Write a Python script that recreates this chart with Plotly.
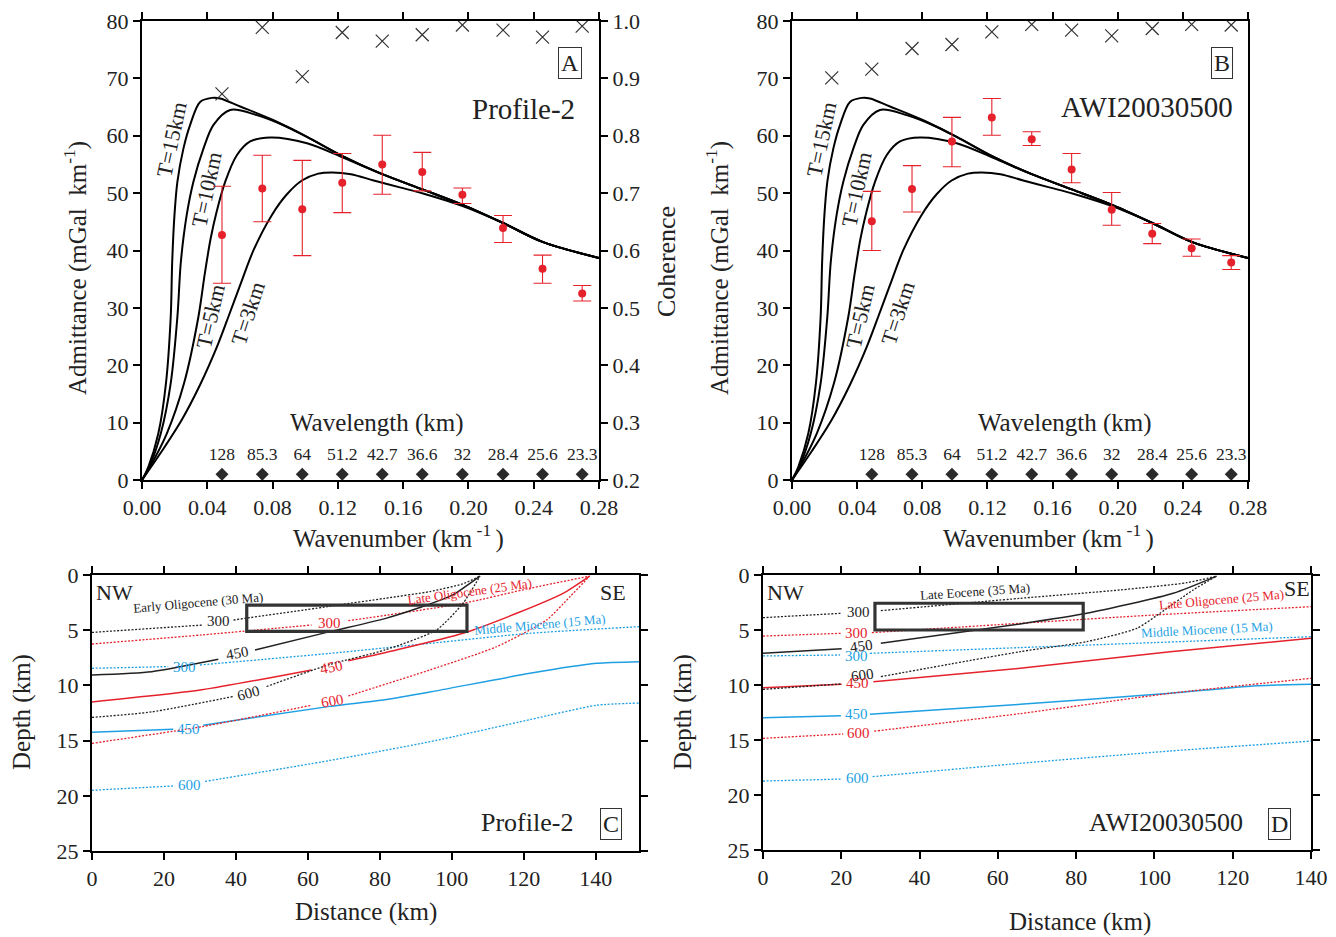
import plotly.graph_objects as go

# ---------------- DATA ----------------
# wavenumbers of the spectral estimates (km^-1) and their wavelength labels
k_obs = [0.0490, 0.0737, 0.0982, 0.1227, 0.1472, 0.1717, 0.1963, 0.2212, 0.2454, 0.2697]
wavelength_labels = ["128", "85.3", "64", "51.2", "42.7", "36.6", "32", "28.4", "25.6", "23.3"]

# Panel A (Profile-2) observed admittance with error-bar limits
a_obs_A = [42.7, 50.8, 47.2, 51.8, 55.0, 53.7, 49.7, 43.9, 36.8, 32.5]
a_top_A = [51.2, 56.6, 55.7, 56.9, 60.1, 57.1, 50.9, 46.1, 39.2, 33.9]
a_bot_A = [34.3, 45.0, 39.1, 46.6, 49.8, 50.4, 48.2, 41.4, 34.3, 31.2]
coh_A = [0.873, 0.989, 0.903, 0.980, 0.965, 0.976, 0.993, 0.984, 0.972, 0.991]

# Panel B (AWI20030500)
a_obs_B = [45.1, 50.7, 59.0, 63.2, 59.4, 54.1, 47.1, 42.9, 40.4, 37.9]
a_top_B = [50.3, 54.8, 63.2, 66.5, 60.7, 56.9, 50.1, 44.7, 42.0, 39.1]
a_bot_B = [40.0, 46.7, 54.6, 60.1, 58.3, 51.8, 44.4, 41.2, 39.0, 36.7]
k_coh_B = [0.0244, 0.0490, 0.0737, 0.0982, 0.1227, 0.1472, 0.1717, 0.1963, 0.2212, 0.2454, 0.2697]
coh_B = [0.901, 0.916, 0.952, 0.959, 0.981, 0.994, 0.984, 0.974, 0.987, 0.994, 0.993]

# model admittance curves
k_t15 = [0, 0.0039, 0.0100, 0.0147, 0.0176, 0.0185, 0.0199, 0.0217, 0.0254, 0.0295, 0.0356, 0.0428, 0.0479, 0.0602, 0.0806, 0.1011, 0.1232, 0.1472, 0.1723, 0.1969, 0.2219, 0.2454, 0.28]
a_t15 = [0, 2.3, 8.1, 16.9, 28.5, 38.0, 46.2, 52.0, 57.8, 61.9, 65.9, 66.6, 66.5, 65.1, 62.7, 59.8, 56.4, 53.3, 50.6, 47.9, 44.7, 41.5, 38.7]
k_t10 = [0, 0.0045, 0.0115, 0.0176, 0.0217, 0.0238, 0.0274, 0.0315, 0.0377, 0.0438, 0.0540, 0.0704, 0.0900, 0.1011, 0.1232, 0.1472, 0.1723, 0.1969, 0.2219, 0.2454, 0.28]
a_t10 = [0, 2.3, 8.1, 16.9, 28.5, 38.0, 46.2, 52.0, 57.8, 61.9, 64.5, 63.6, 61.4, 59.8, 56.4, 53.3, 50.6, 47.9, 44.7, 41.5, 38.7]
k_t5 = [0, 0.0049, 0.0152, 0.0258, 0.0346, 0.0385, 0.0420, 0.0455, 0.0510, 0.0581, 0.0663, 0.0786, 0.1011, 0.1232, 0.1472, 0.1723, 0.1969, 0.2219, 0.2454, 0.28]
a_t5 = [0, 2.3, 8.1, 16.9, 28.5, 36.0, 42.0, 46.5, 52.0, 56.6, 59.0, 59.7, 58.7, 56.2, 53.3, 50.6, 47.9, 44.7, 41.5, 38.7]
k_t3 = [0, 0.0121, 0.0244, 0.0356, 0.0459, 0.0530, 0.0602, 0.0684, 0.0796, 0.0888, 0.0980, 0.1080, 0.1165, 0.1280, 0.1420, 0.1580, 0.1727, 0.1969, 0.2219, 0.2454, 0.28]
a_t3 = [0, 5.0, 10.5, 16.6, 23.2, 28.5, 34.0, 40.1, 46.2, 49.8, 52.2, 53.4, 53.6, 53.3, 52.2, 51.0, 49.9, 47.7, 44.7, 41.5, 38.7]
curve_names = ["T=15km", "T=10km", "T=5km", "T=3km"]

# Panel C (Profile-2) isotherms: distance (km) / depth (km); None = label gap
c_b300_x = [0, 30.9, None, 39.3, 66.1, 81.4, 93.9, 103.0, 107.8]
c_b300_z = [5.2, 4.53, None, 4.08, 2.83, 2.11, 1.5, 0.8, 0.1]
c_b450_x = [0, 16.6, 35.1, None, 45.3, 66.1, 81.4, 91.1, 100.0, 107.8]
c_b450_z = [9.06, 8.76, 7.64, None, 6.79, 5.13, 3.95, 2.95, 1.85, 0.1]
c_b600_x = [0, 16.6, 39.3, None, 48.5, 66.1, 81.4, 95.7, 103.1, 107.8]
c_b600_z = [12.9, 12.4, 11.0, None, 10.1, 8.1, 6.79, 4.98, 2.57, 0.1]
c_r300_x = [0, 30.5, 61.0, None, 71.2, 103.1, 121.7, 138.3]
c_r300_z = [6.25, 5.43, 4.53, None, 4.14, 2.57, 1.2, 0.1]
c_r450_x = [0, 30.5, 61.0, None, 71.2, 84.6, 103.1, 118.0, 130.9, 138.3]
c_r450_z = [11.5, 10.4, 8.6, None, 7.77, 6.79, 5.28, 3.47, 1.66, 0.1]
c_r600_x = [0, 30.5, 61.0, None, 71.2, 93.9, 112.4, 126.3, 132.8, 138.3]
c_r600_z = [15.25, 13.74, 11.8, None, 10.96, 8.6, 6.5, 4.08, 1.97, 0.1]
c_u300_x = [0, 21.2, None, 30.0, 66.1, 93.9, 121.7, 152]
c_u300_z = [8.45, 8.3, None, 8.15, 7.1, 6.19, 5.28, 4.68]
c_u450_x = [0, 22.6, None, 30.9, 66.1, 81.4, 93.9, 121.7, 140.2, 152]
c_u450_z = [14.25, 13.98, None, 13.6, 11.9, 11.3, 10.6, 8.9, 8.0, 7.85]
c_u600_x = [0, 23.0, None, 31.4, 66.1, 93.9, 121.7, 140.2, 152]
c_u600_z = [19.5, 19.1, None, 18.7, 16.8, 15.1, 13.1, 11.8, 11.6]
c_box_x = [43.0, 104.2]
c_box_z = [2.72, 5.1]

# Panel D (AWI20030500) isotherms
d_b300_x = [0, 20.1, None, 30.1, 65.7, 91.2, 108.3, 115.9]
d_b300_z = [3.88, 3.48, None, 3.24, 2.12, 1.36, 0.7, 0.1]
d_b450_x = [0, 20.1, None, 30.1, 65.7, 82.7, 104.8, 115.9]
d_b450_z = [7.12, 6.7, None, 6.21, 4.45, 3.48, 1.66, 0.1]
d_b600_x = [0, 20.1, None, 30.1, 65.7, 82.7, 95.5, 101.4, 109.9, 115.9]
d_b600_z = [10.4, 9.9, None, 9.24, 6.97, 6.06, 4.85, 3.48, 1.36, 0.1]
d_r300_x = [0, 20.1, None, 27.8, 65.7, 99.7, 140]
d_r300_z = [5.55, 5.3, None, 5.24, 4.39, 3.64, 2.88]
d_r450_x = [0, 20.1, None, 28.2, 65.7, 104, 140]
d_r450_z = [10.24, 9.94, None, 9.7, 8.48, 6.97, 5.76]
d_r600_x = [0, 20.5, None, 28.4, 65.7, 104, 140]
d_r600_z = [14.85, 14.45, None, 14.2, 12.6, 10.76, 9.39]
d_u300_x = [0, 19.7, None, 27.3, 65.7, 99.7, 140]
d_u300_z = [7.36, 7.27, None, 7.12, 6.6, 6.15, 5.61]
d_u450_x = [0, 19.9, None, 27.3, 65.7, 104, 125.3, 140]
d_u450_z = [12.97, 12.8, None, 12.67, 11.76, 10.76, 10.09, 9.94]
d_u600_x = [0, 20.1, None, 28, 65.7, 104, 140]
d_u600_z = [18.73, 18.55, None, 18.33, 17.12, 16.0, 15.1]
d_box_x = [28.6, 81.8]
d_box_z = [2.57, 5.0]

# ---------------- STYLE / LAYOUT ----------------
OFF = 8                      # default page margin around the plot div
W, H = 1336 - OFF, 937 - OFF
FONT = "Liberation Serif"
RED = "#e5222b"
BLUE = "#1e9fe3"
BLK = "#222222"


def fx(p):
    return (p - OFF) / W


def fy(p):
    return 1 - (p - OFF) / H


fig = go.Figure()

# ---- Panels A and B ----
curves = [(k_t15, a_t15), (k_t10, a_t10), (k_t5, a_t5), (k_t3, a_t3)]
for xa, ya, yc, a_obs, a_top, a_bot, kc, coh in [
    ("x", "y", "y2", a_obs_A, a_top_A, a_bot_A, k_obs, coh_A),
    ("x2", "y3", "y4", a_obs_B, a_top_B, a_bot_B, k_coh_B, coh_B),
]:
    for kk, aa in curves:
        fig.add_trace(go.Scatter(x=kk, y=aa, mode="lines", xaxis=xa, yaxis=ya,
                                 line=dict(color="black", width=2.0, shape="spline", smoothing=0.9),
                                 hoverinfo="skip"))
    fig.add_trace(go.Scatter(
        x=k_obs, y=a_obs, mode="markers", xaxis=xa, yaxis=ya,
        marker=dict(color=RED, size=8),
        error_y=dict(type="data", symmetric=False,
                     array=[t - v for t, v in zip(a_top, a_obs)],
                     arrayminus=[v - b for v, b in zip(a_obs, a_bot)],
                     color=RED, thickness=1.1, width=9)))
    fig.add_trace(go.Scatter(
        x=kc, y=coh, mode="markers", xaxis=xa, yaxis=yc,
        marker=dict(symbol="x-thin", size=13, line=dict(color="#333", width=1.2))))
    fig.add_trace(go.Scatter(
        x=k_obs, y=[1.0] * len(k_obs), mode="markers", xaxis=xa, yaxis=ya,
        marker=dict(symbol="diamond", size=10, color="#2a2a2a")))
    fig.add_trace(go.Scatter(
        x=k_obs, y=[4.3] * len(k_obs), mode="text", xaxis=xa, yaxis=ya,
        text=wavelength_labels, textfont=dict(family=FONT, size=17.5, color=BLK)))


# ---- Panels C and D ----
def iso(x, z, color, dash, xa, ya):
    fig.add_trace(go.Scatter(x=x, y=z, mode="lines", xaxis=xa, yaxis=ya, connectgaps=False,
                             line=dict(color=color, width=1.5 if dash == "solid" else 1.3,
                                       dash=dash, shape="spline", smoothing=0.6),
                             hoverinfo="skip"))


DOT = "2px,1.6px"
for (x, z, col, ds) in [
    (c_u600_x, c_u600_z, BLUE, DOT), (c_u450_x, c_u450_z, BLUE, "solid"), (c_u300_x, c_u300_z, BLUE, DOT),
    (c_r600_x, c_r600_z, RED, DOT), (c_r450_x, c_r450_z, RED, "solid"), (c_r300_x, c_r300_z, RED, DOT),
    (c_b600_x, c_b600_z, BLK, DOT), (c_b450_x, c_b450_z, BLK, "solid"), (c_b300_x, c_b300_z, BLK, DOT),
]:
    iso(x, z, col, ds, "x3", "y5")
for (x, z, col, ds) in [
    (d_u600_x, d_u600_z, BLUE, DOT), (d_u450_x, d_u450_z, BLUE, "solid"), (d_u300_x, d_u300_z, BLUE, DOT),
    (d_r600_x, d_r600_z, RED, DOT), (d_r450_x, d_r450_z, RED, "solid"), (d_r300_x, d_r300_z, RED, DOT),
    (d_b600_x, d_b600_z, BLK, DOT), (d_b450_x, d_b450_z, BLK, "solid"), (d_b300_x, d_b300_z, BLK, DOT),
]:
    iso(x, z, col, ds, "x4", "y6")

shapes = [
    dict(type="rect", xref="x3", yref="y5", x0=c_box_x[0], x1=c_box_x[1], y0=c_box_z[0], y1=c_box_z[1],
         line=dict(color="#333", width=3.2)),
    dict(type="rect", xref="x4", yref="y6", x0=d_box_x[0], x1=d_box_x[1], y0=d_box_z[0], y1=d_box_z[1],
         line=dict(color="#333", width=3.2)),
]

ax = dict(showline=True, linecolor="black", linewidth=2, ticks="outside", ticklen=7, tickwidth=1.5,
          tickcolor="black", showgrid=False, zeroline=False, automargin=False,
          tickfont=dict(family=FONT, size=22, color=BLK))

layout = dict(
    width=W, height=H, margin=dict(l=0, r=0, t=0, b=0, autoexpand=False), showlegend=False,
    paper_bgcolor="white", plot_bgcolor="white",
    xaxis=dict(ax, domain=[fx(142), fx(599)], range=[0, 0.28], dtick=0.04, tickformat=".2f",
               anchor="y", mirror="ticks"),
    yaxis=dict(ax, domain=[fy(480), fy(21)], range=[0, 80], dtick=10, anchor="x"),
    yaxis2=dict(ax, overlaying="y", side="right", anchor="x", range=[0.2, 1.0], dtick=0.1,
                tickformat=".1f"),
    xaxis2=dict(ax, domain=[fx(792), fx(1248)], range=[0, 0.28], dtick=0.04, tickformat=".2f",
                anchor="y3", mirror="ticks"),
    yaxis3=dict(ax, domain=[fy(480), fy(21)], range=[0, 80], dtick=10, anchor="x2", mirror=True),
    yaxis4=dict(overlaying="y3", anchor="x2", range=[0.2, 1.0], visible=False, automargin=False),
    xaxis3=dict(ax, domain=[fx(92), fx(639)], range=[0, 152], dtick=20, anchor="y5", mirror="ticks"),
    yaxis5=dict(ax, domain=[fy(851), fy(575)], range=[25, 0], dtick=5, anchor="x3", mirror="ticks"),
    xaxis4=dict(ax, domain=[fx(763), fx(1311)], range=[0, 140], dtick=20, anchor="y6", mirror="ticks"),
    yaxis6=dict(ax, domain=[fy(850), fy(575)], range=[25, 0], dtick=5, anchor="x4", mirror="ticks"),
    shapes=shapes,
)
fig.update_layout(**layout)

ann = []


def txt(text, x, y, size, xref="paper", yref="paper", color=BLK, angle=0, xanchor="center", **kw):
    if xref == "paper":
        x = fx(x)
    if yref == "paper":
        y = fy(y)
    ann.append(dict(text=text, x=x, y=y, xref=xref, yref=yref, showarrow=False, textangle=angle,
                    font=dict(family=FONT, size=size, color=color), xanchor=xanchor, yanchor="middle", **kw))


# axis titles
for cx in (75, 717):
    txt("Admittance (mGal  km<sup>-1</sup>)", cx, 268, 25, angle=-90)
txt("Coherence", 667, 262, 26, angle=-90)
for cx in (398, 1048):
    txt("Wavenumber (km<sup> -1 </sup>)", cx, 536, 25)
txt("Wavelength (km)", 377, 423, 25)
txt("Wavelength (km)", 1065, 423, 25)
txt("Depth (km)", 22, 712, 25, angle=-90)
txt("Depth (km)", 683, 712, 25, angle=-90)
txt("Distance (km)", 366, 912, 25)
txt("Distance (km)", 1080, 922, 25)

# panel names
txt("Profile-2", 523, 109, 29)
txt("AWI20030500", 1147, 107, 29)
txt("Profile-2", 527, 822, 26)
txt("AWI20030500", 1166, 822, 26)
for lt, cx, cy in [("A", 570, 63), ("B", 1222, 63), ("C", 611, 824), ("D", 1279, 824)]:
    txt(lt, cx, cy, 24, bordercolor="#333", borderwidth=1, borderpad=2)

# curve labels (data coordinates)
label_pos = [(0.0182, 59.3, -78), (0.0397, 50.6, -78), (0.0422, 28.6, -77), (0.0647, 29.1, -72)]
for xa, ya in (("x", "y"), ("x2", "y3")):
    for name, (lk, la, ang) in zip(curve_names, label_pos):
        txt(name, lk, la, 22, xref=xa, yref=ya, angle=ang)

# panel C labels
txt("NW", 0.6, 1.55, 22, xref="x3", yref="y5", xanchor="left")
txt("SE", 144.7, 1.6, 22, xref="x3", yref="y5")
txt("Early Oligocene (30 Ma)", 29.4, 2.45, 13, xref="x3", yref="y5", angle=-5)
txt("Late Oligocene (25 Ma)", 105.0, 1.45, 13, xref="x3", yref="y5", color=RED, angle=-8)
txt("Middle Miocene (15 Ma)", 124.4, 4.5, 13, xref="x3", yref="y5", color=BLUE, angle=-5)
for t, x, z, col, ang in [
    ("300", 35.1, 4.14, BLK, 0), ("450", 40.5, 7.09, BLK, -10), ("600", 43.6, 10.66, BLK, -15),
    ("300", 66.1, 4.38, RED, 0), ("450", 66.6, 8.3, RED, -12), ("600", 66.75, 11.4, RED, -10),
    ("300", 25.6, 8.36, BLUE, 0), ("450", 26.9, 13.98, BLUE, 0), ("600", 27.2, 19.0, BLUE, 0),
]:
    txt(t, x, z, 15, xref="x3", yref="y5", color=col, angle=ang)

# panel D labels
txt("NW", 0.6, 1.6, 22, xref="x4", yref="y6", xanchor="left")
txt("SE", 136.4, 1.2, 22, xref="x4", yref="y6")
txt("Late Eocene (35 Ma)", 54.2, 1.52, 13, xref="x4", yref="y6", angle=-4)
txt("Late Oligocene (25 Ma)", 117.2, 2.27, 13, xref="x4", yref="y6", color=RED, angle=-5)
txt("Middle Miocene (15 Ma)", 113.4, 4.94, 13, xref="x4", yref="y6", color=BLUE, angle=-3)
for t, x, z, col, ang in [
    ("300", 24.5, 3.34, BLK, 0), ("450", 25.2, 6.45, BLK, -8), ("600", 25.5, 9.09, BLK, -8),
    ("300", 23.8, 5.3, RED, 0), ("450", 24.1, 9.85, RED, 0), ("600", 24.3, 14.34, RED, 0),
    ("300", 23.9, 7.34, BLUE, 0), ("450", 23.9, 12.64, BLUE, 0), ("600", 24.1, 18.48, BLUE, 0),
]:
    txt(t, x, z, 15, xref="x4", yref="y6", color=col, angle=ang)

fig.update_layout(annotations=ann)
fig.write_html("out.html")
